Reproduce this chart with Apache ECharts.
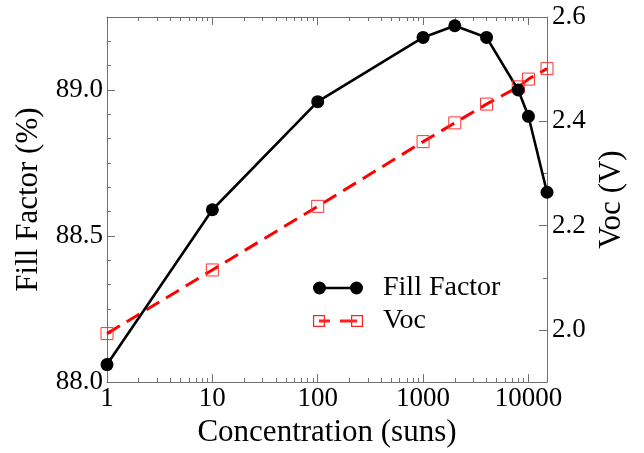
<!DOCTYPE html>
<html>
<head>
<meta charset="utf-8">
<script src="https://cdn.jsdelivr.net/npm/echarts/dist/echarts.min.js"></script>
<style>
    html, body { margin: 0; padding: 0; background: #fff; }
    #chart { width: 644px; height: 453px; }
</style>
</head>
<body>
<div id="chart"></div>
<script>
// concentration in suns
var conc = [1, 10, 100, 1000, 2000, 4000, 8000, 10000, 15000]
// fill factor (%)
var fillFactor = [88.06, 88.59, 88.96, 89.18, 89.22, 89.18, 89.00, 88.91, 88.65]
// open circuit voltage (V)
var voc = [1.993, 2.115, 2.237, 2.361, 2.397, 2.433, 2.466, 2.481, 2.501]

var xTicks = [1, 10, 100, 1000, 10000]
var ffTicks = [88.0, 88.5, 89.0]
var vocTicks = [2.0, 2.2, 2.4, 2.6]
var vocMinor = [2.1, 2.3, 2.5]

// log minor ticks 2..9 in each decade
var xMinor = []
for (var d = 1; d <= 1000; d *= 10) {
    for (var m = 2; m <= 9; m++) xMinor.push(d * m)
}
// six steps per 0.5 on the fill factor axis
var ffMinor = []
for (var k = 1; k < 15; k++) {
    if (k % 6) ffMinor.push(88 + k / 12)
}

var serif = 'Liberation Serif'
var gray = '#707070'

function pairs(xs, ys) {
    var out = []
    for (var i = 0; i < xs.length; i++) out.push([xs[i], ys[i]])
    return out
}

function xAx(pos, ticks, len, main) {
    return {
        type: 'log', logBase: 10, min: 1, max: 15000, position: pos,
        axisLine: { show: main, lineStyle: { color: gray, width: 1 } },
        axisTick: { show: true, inside: true, length: len, customValues: ticks, lineStyle: { color: gray, width: 1 } },
        axisLabel: { show: main && pos === 'bottom', customValues: ticks, margin: 3,
            fontFamily: serif, fontSize: 27, color: '#000',
            formatter: function (v) { return String(v) } },
        minorTick: { show: false }, splitLine: { show: false }
    }
}

function yAx(pos, min, max, ticks, len, main, digits) {
    return {
        type: 'value', min: min, max: max, position: pos,
        axisLine: { show: main, lineStyle: { color: gray, width: 1 } },
        axisTick: { show: true, inside: true, length: len, customValues: ticks, lineStyle: { color: gray, width: 1 } },
        axisLabel: { show: main, customValues: ticks, margin: pos === 'left' ? 4 : 5,
            fontFamily: serif, fontSize: 27, color: '#000',
            formatter: function (v) { return v.toFixed(digits) } },
        splitLine: { show: false }
    }
}

var axisX = xAx('bottom', xTicks, 8, true)
axisX.name = 'Concentration (suns)'
axisX.nameLocation = 'middle'
axisX.nameGap = 25
axisX.nameTextStyle = { fontFamily: serif, fontSize: 31, color: '#000' }

var axisFF = yAx('left', 88, 89.25, ffTicks, 8, true, 1)
axisFF.name = 'Fill Factor (%)'
axisFF.nameLocation = 'middle'
axisFF.nameGap = 60
axisFF.nameRotate = 90
axisFF.nameTextStyle = { fontFamily: serif, fontSize: 31, color: '#000' }

var axisVoc = yAx('right', 1.9, 2.6, vocTicks, 8, true, 1)
axisVoc.name = 'Voc (V)'
axisVoc.nameLocation = 'middle'
axisVoc.nameGap = 37
axisVoc.nameRotate = 90
axisVoc.nameTextStyle = { fontFamily: serif, fontSize: 31, color: '#000' }

var ffIcon = 'path://M0,6.5A6.5,6.5,0,1,1,13,6.5A6.5,6.5,0,1,1,0,6.5Z' +
    'M6.5,5.2L43.5,5.2L43.5,7.8L6.5,7.8Z' +
    'M37,6.5A6.5,6.5,0,1,1,50,6.5A6.5,6.5,0,1,1,37,6.5Z'
var vocIcon = 'path://M0,0L12,0L12,12L0,12Z M1.2,1.2L1.2,10.8L10.8,10.8L10.8,1.2Z' +
    'M38,0L50,0L50,12L38,12Z M39.2,1.2L39.2,10.8L48.8,10.8L48.8,1.2Z' +
    'M6,4.6L17,4.6L17,7.4L6,7.4Z M27,4.6L44,4.6L44,7.4L27,7.4Z'

var option = {
    animation: false,
    backgroundColor: '#fff',
    grid: { left: 107, right: 97, top: 17, bottom: 60 },
    xAxis: [
        axisX,
        xAx('bottom', xMinor, 4, false),
        xAx('top', xTicks, 8, true),
        xAx('top', xMinor, 4, false)
    ],
    yAxis: [
        axisFF,
        axisVoc,
        yAx('left', 88, 89.25, ffMinor, 4, false, 2),
        yAx('right', 1.9, 2.6, vocMinor, 4, false, 1)
    ],
    legend: {
        orient: 'vertical',
        left: 308, top: 269,
        itemWidth: 50, itemHeight: 13, itemGap: 5,
        textStyle: { fontFamily: serif, fontSize: 28, color: '#000', padding: [0, 0, 0, 15] },
        data: [
            { name: 'Fill Factor', icon: ffIcon, itemStyle: { color: '#000', borderWidth: 0 } },
            { name: 'Voc', icon: vocIcon, itemStyle: { color: '#ff2020', borderWidth: 0 } }
        ]
    },
    series: [
        {
            name: 'Voc', type: 'line', xAxisIndex: 0, yAxisIndex: 1,
            data: pairs(conc, voc),
            symbol: 'rect', symbolSize: 12,
            lineStyle: { color: '#ff0000', width: 3, type: [15, 8] },
            itemStyle: { color: 'rgba(255,255,255,0)', borderColor: '#ff3030', borderWidth: 1 }
        },
        {
            name: 'Fill Factor', type: 'line', xAxisIndex: 0, yAxisIndex: 0,
            data: pairs(conc, fillFactor),
            symbol: 'circle', symbolSize: 13,
            lineStyle: { color: '#000', width: 2.6 },
            itemStyle: { color: '#000' }
        }
    ]
}

var chart = echarts.init(document.getElementById('chart'))
chart.setOption(option)
</script>
</body>
</html>
